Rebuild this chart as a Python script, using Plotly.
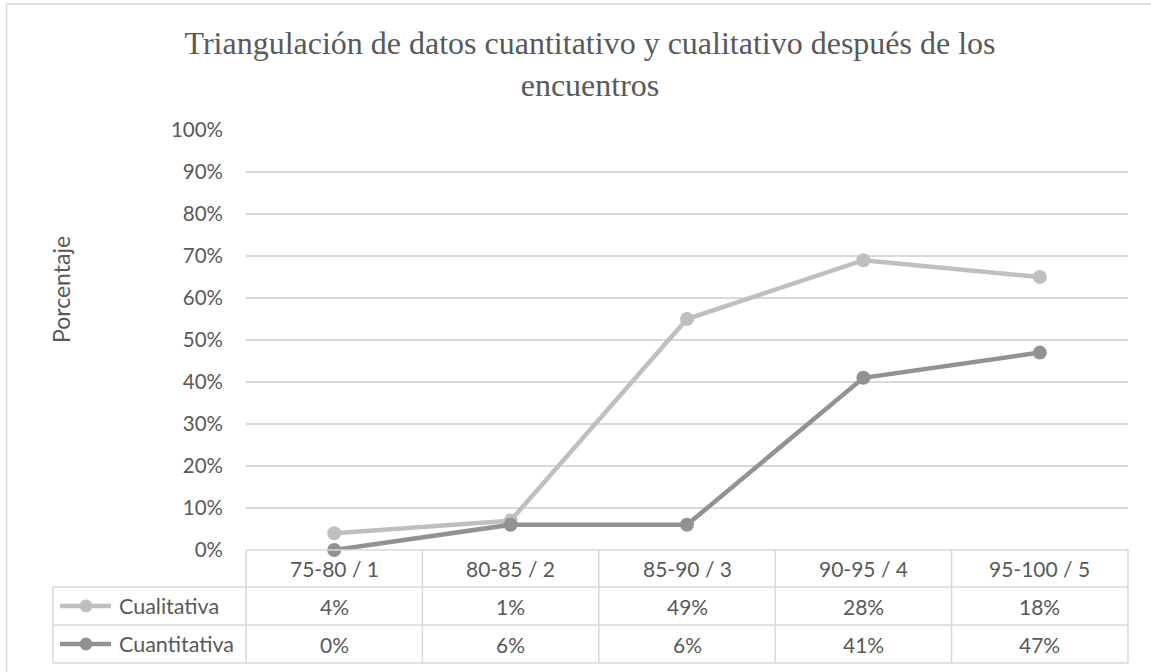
import plotly.graph_objects as go

categories = ["75-80 / 1", "80-85 / 2", "85-90 / 3", "90-95 / 4", "95-100 / 5"]
series_names = ["Cualitativa", "Cuantitativa"]
cualitativa_plot = [0.04, 0.07, 0.55, 0.69, 0.65]
cuantitativa_plot = [0.00, 0.06, 0.06, 0.41, 0.47]
cualitativa_table = ["4%", "1%", "49%", "28%", "18%"]
cuantitativa_table = ["0%", "6%", "6%", "41%", "47%"]
y_ticks = [0, 0.1, 0.2, 0.3, 0.4, 0.5, 0.6, 0.7, 0.8, 0.9, 1.0]

colors = ["#BFBFBF", "#929292"]
grid = "#D9D9D9"
txt = "#595959"
FONT = "Lato"
FS = 20.5
FT = 21

W, H = 1151, 672
ml, mr, mt, mb = 246, 23, 130, 122
pw = W - ml - mr
ph = H - mt - mb

def px_x(x):
    return (x - ml) / pw

def px_y(y):
    return (H - mb - y) / ph

fig = go.Figure()
for name, vals, col in zip(series_names, [cualitativa_plot, cuantitativa_plot], colors):
    fig.add_trace(go.Scatter(
        x=list(range(len(categories))), y=vals, name=name, mode="lines+markers",
        line=dict(color=col, width=4.5), marker=dict(color=col, size=14),
        cliponaxis=False, showlegend=False, hoverinfo="skip"))

shapes = []
ln = dict(color=grid, width=1.5)
top, r1, r2, bot = 550, 587, 625, 663
left_leg = 53
n = len(categories)
shapes.append(dict(type="line", xref="paper", yref="paper", x0=0, x1=1, y0=px_y(top), y1=px_y(top), line=ln))
for yy in (r1, r2, bot):
    shapes.append(dict(type="line", xref="paper", yref="paper", x0=px_x(left_leg), x1=1, y0=px_y(yy), y1=px_y(yy), line=ln))
for i in range(n + 1):
    xx = i / n
    shapes.append(dict(type="line", xref="paper", yref="paper", x0=xx, x1=xx, y0=px_y(top), y1=px_y(bot), line=ln))
shapes.append(dict(type="line", xref="paper", yref="paper", x0=px_x(left_leg), x1=px_x(left_leg), y0=px_y(r1), y1=px_y(bot), line=ln))

shapes.append(dict(type="line", xref="paper", yref="paper", x0=px_x(6.5), x1=px_x(6.5), y0=px_y(4), y1=px_y(H + 2), line=dict(color=grid, width=1.5)))
shapes.append(dict(type="line", xref="paper", yref="paper", x0=px_x(6.5), x1=px_x(W + 2), y0=px_y(4), y1=px_y(4), line=dict(color=grid, width=1.5)))

annotations = []
f = dict(family=FONT, size=FT, color=txt)
for i, c in enumerate(categories):
    cx = (i + 0.5) / n
    annotations.append(dict(x=cx, y=px_y((top + r1) / 2), xref="paper", yref="paper", text=c,
                            showarrow=False, font=f, xanchor="center", yanchor="middle"))
    annotations.append(dict(x=cx, y=px_y((r1 + r2) / 2), xref="paper", yref="paper", text=cualitativa_table[i],
                            showarrow=False, font=f, xanchor="center", yanchor="middle"))
    annotations.append(dict(x=cx, y=px_y((r2 + bot) / 2), xref="paper", yref="paper", text=cuantitativa_table[i],
                            showarrow=False, font=f, xanchor="center", yanchor="middle"))

for name, col, (ya, yb) in zip(series_names, colors, [(r1, r2), (r2, bot)]):
    yc = (ya + yb) / 2
    shapes.append(dict(type="line", xref="paper", yref="paper", x0=px_x(60), x1=px_x(111), y0=px_y(yc), y1=px_y(yc),
                       line=dict(color=col, width=4.5)))
    shapes.append(dict(type="circle", xref="paper", yref="paper", x0=px_x(86 - 6.5), x1=px_x(86 + 6.5),
                       y0=px_y(yc + 6.5), y1=px_y(yc - 6.5), fillcolor=col, line=dict(color=col, width=0)))
    annotations.append(dict(x=px_x(117), y=px_y(yc), xref="paper", yref="paper", text=name,
                            showarrow=False, font=dict(family=FONT, size=21.5, color=txt), xanchor="left", yanchor="middle"))

annotations.append(dict(x=px_x(61), y=px_y(290), xref="paper", yref="paper", text="Porcentaje",
                        showarrow=False, textangle=-90, font=dict(family=FONT, size=23, color=txt),
                        xanchor="center", yanchor="middle"))

fig.update_layout(
    width=W, height=H,
    margin=dict(l=ml, r=mr, t=mt, b=mb),
    paper_bgcolor="white", plot_bgcolor="white",
    title=dict(text="Triangulación de datos cuantitativo y cualitativo después de los<br>encuentros",
               x=590 / W, xanchor="center", y=1 - 54 / H, yanchor="middle",
               font=dict(family="Liberation Serif", size=32, color=txt)),
    xaxis=dict(range=[-0.5, n - 0.5], showticklabels=False, showgrid=False, zeroline=False,
               showline=False, ticks="", tickvals=list(range(n))),
    yaxis=dict(range=[0, 1], tickvals=y_ticks, tickformat=".0%", showgrid=True, gridcolor=grid,
               gridwidth=1.5, zeroline=False, showline=False, ticks="",
               tickfont=dict(family=FONT, size=FS, color=txt), ticklabelstandoff=22),
    shapes=shapes, annotations=annotations,
)

fig.write_html("out.html", config={"displayModeBar": False},
               post_script="document.body.style.margin='0';document.body.style.padding='0';document.body.style.overflow='hidden';")
